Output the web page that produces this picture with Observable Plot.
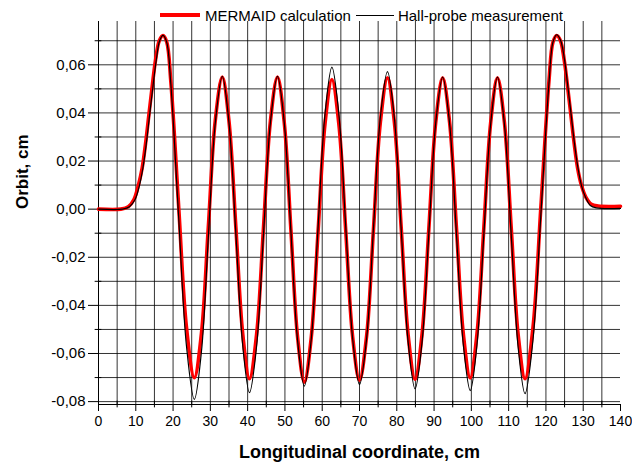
<!DOCTYPE html>
<html>
<head>
<meta charset="utf-8">
<script src="https://cdn.jsdelivr.net/npm/d3@7"></script>
<script src="https://cdn.jsdelivr.net/npm/@observablehq/plot@0.6"></script>
<style>
  body { margin: 0; background: #fff; }
  #wrap { position: relative; width: 632px; height: 464px; font-family: "Liberation Sans", Arial, sans-serif; }
  #legend { position: absolute; top: 6px; left: 160px; height: 18px; display: flex; align-items: center; font-size: 15px; color: #000; white-space: nowrap; }
  .sw { display: inline-block; }
</style>
</head>
<body>
<div id="wrap">
  <div id="legend">
    <span class="sw" style="width:40px;height:4px;background:#ff0000;"></span>
    <span style="margin-left:5px;">MERMAID calculation</span>
    <span class="sw" style="width:38px;height:1px;background:#000;margin-left:5px;"></span>
    <span style="margin-left:4px;">Hall-probe measurement</span>
  </div>
</div>
<script>
const xTicks = [0, 10, 20, 30, 40, 50, 60, 70, 80, 90, 100, 110, 120, 130, 140];
const xGrid = [5, 10, 15, 20, 25, 30, 35, 40, 45, 50, 55, 60, 65, 70, 75, 80, 85, 90, 95, 100, 105, 110, 115, 120, 125, 130, 135];
const xMinor = [5, 15, 25, 35, 45, 55, 65, 75, 85, 95, 105, 115, 125, 135];
const yTicks = [-0.08, -0.06, -0.04, -0.02, 0, 0.02, 0.04, 0.06];
const yGrid = [-0.08, -0.07, -0.06, -0.05, -0.04, -0.03, -0.02, -0.01, 0, 0.01, 0.02, 0.03, 0.04, 0.05, 0.06, 0.07];
const yMinor = [-0.07, -0.05, -0.03, -0.01, 0.01, 0.03, 0.05, 0.07];

const mermaidX = [0, 6, 8.0, 9.5, 10.7, 11.7, 12.6, 13.5, 14.4, 15.3, 16.3, 17.3, 18.3, 19.4, 21.5, 23.6, 25.7,
  27.6, 29.45, 31.3, 33.2, 35.0, 36.85, 38.7, 40.5, 42.4, 44.25, 46.1, 48.0, 49.8, 51.6, 53.4, 55.2,
  57.05, 58.9, 60.75, 62.6, 64.45, 66.3, 68.15, 70.0, 71.9, 73.75, 75.6, 77.5, 79.35, 81.2, 83.05, 84.9,
  86.75, 88.6, 90.45, 92.3, 94.15, 96.0, 97.85, 99.7, 101.5, 103.35, 105.2, 107.0, 108.85, 110.7, 112.55, 114.4,
  116.5, 118.65, 120.8, 121.9, 122.9, 123.9, 124.9, 125.8, 126.7, 127.6, 128.5, 129.5, 130.7, 132.2, 134, 140];
const mermaidY = [0, 0, 0.001, 0.004, 0.010, 0.017, 0.027, 0.039, 0.051, 0.062, 0.0700, 0.0722, 0.0695, 0.0530, 0.0011, -0.0492, -0.0701,
  -0.0518, -0.0076, 0.0366, 0.0549, 0.0365, -0.0078, -0.0521, -0.0705, -0.0521, -0.0078, 0.0365, 0.0549, 0.0363, -0.0085, -0.0533, -0.0719,
  -0.0535, -0.0090, 0.0355, 0.0539, 0.0356, -0.0087, -0.0529, -0.0712, -0.0528, -0.0083, 0.0362, 0.0546, 0.0362, -0.0081, -0.0524, -0.0708,
  -0.0524, -0.0081, 0.0362, 0.0546, 0.0363, -0.0078, -0.0519, -0.0702, -0.0519, -0.0078, 0.0363, 0.0546, 0.0363, -0.0080, -0.0522, -0.0705,
  -0.0496, 0.0009, 0.0530, 0.0695, 0.0722, 0.0700, 0.062, 0.051, 0.039, 0.027, 0.017, 0.010, 0.005, 0.002, 0.0013, 0.0012];

const hallX = [0, 6.5, 8.3, 9.8, 11.0, 11.9, 12.8, 13.7, 14.6, 15.5, 16.4, 17.3, 18.3, 19.4, 21.5, 23.6, 25.7,
  27.6, 29.45, 31.3, 33.2, 35.0, 36.85, 38.7, 40.5, 42.4, 44.25, 46.1, 48.0, 49.8, 51.6, 53.4, 55.2,
  57.05, 58.9, 60.75, 62.6, 64.45, 66.3, 68.15, 70.0, 71.9, 73.75, 75.6, 77.5, 79.35, 81.2, 83.05, 84.9,
  86.75, 88.6, 90.45, 92.3, 94.15, 96.0, 97.85, 99.7, 101.5, 103.35, 105.2, 107.0, 108.85, 110.7, 112.55, 114.4,
  116.5, 118.65, 120.8, 121.9, 122.9, 123.9, 124.9, 125.8, 126.7, 127.6, 128.5, 129.5, 130.6, 131.9, 133.5, 140];
const hallY = [0, 0, 0.001, 0.004, 0.010, 0.017, 0.027, 0.039, 0.051, 0.062, 0.0700, 0.0722, 0.0693, 0.0520, -0.0035, -0.0570, -0.0791,
  -0.0594, -0.0120, 0.0355, 0.0552, 0.0359, -0.0106, -0.0570, -0.0763, -0.0570, -0.0106, 0.0359, 0.0552, 0.0363, -0.0092, -0.0547, -0.0736,
  -0.0542, -0.0073, 0.0396, 0.0590, 0.0397, -0.0070, -0.0536, -0.0729, -0.0539, -0.0079, 0.0382, 0.0572, 0.0379, -0.0088, -0.0554, -0.0747,
  -0.0557, -0.0099, 0.0359, 0.0549, 0.0358, -0.0103, -0.0564, -0.0754, -0.0564, -0.0103, 0.0358, 0.0549, 0.0356, -0.0109, -0.0574, -0.0767,
  -0.0548, -0.0021, 0.0520, 0.0695, 0.0725, 0.0703, 0.063, 0.052, 0.040, 0.028, 0.018, 0.010, 0.005, 0.0015, 0.0005, 0.0003];

const mermaid = mermaidX.map((x, i) => ({x, y: mermaidY[i]}));
const hall = hallX.map((x, i) => ({x, y: hallY[i]}));

const yMin = -0.0812, yMax = 0.078;
const fmtY = d => d.toFixed(2).replace(".", ",");

const chart = Plot.plot({
  width: 632,
  height: 464,
  marginLeft: 98,
  marginRight: 12,
  marginTop: 21,
  marginBottom: 60,
  x: {domain: [0, 140]},
  y: {domain: [yMin, yMax]},
  style: {fontFamily: "'Liberation Sans', Arial, sans-serif", fontSize: "13px", color: "#000", background: "transparent"},
  marks: [
    Plot.ruleY(yGrid, {y: d => d, x1: 0, x2: 140, stroke: "#000", strokeOpacity: 0.8}),
    Plot.ruleX(xGrid, {x: d => d, y1: yMin, y2: yMax, stroke: "#000", strokeOpacity: 0.8}),
    Plot.ruleX([0], {x: d => d, y1: yMin, y2: yMax, stroke: "#000"}),
    Plot.ruleY([yMin], {y: d => d, x1: 0, x2: 140, stroke: "#000"}),
    Plot.ruleX(xMinor, {x: d => d, y1: yMin - 0.0014, y2: yMin + 0.0014, stroke: "#000"}),
    Plot.ruleY(yMinor, {y: d => d, x1: -0.9, x2: 0.9, stroke: "#000"}),
    Plot.axisX(xTicks, {tickSize: 7, tickPadding: 5, fontSize: 14, label: null, tickFormat: d => String(d)}),
    Plot.axisY(yTicks, {tickSize: 10, tickPadding: 3, fontSize: 15, label: null, tickFormat: fmtY}),
    Plot.line(mermaid, {x: "x", y: "y", stroke: "#ff0000", strokeWidth: 3.6, curve: "catmull-rom"}),
    Plot.line(hall, {x: "x", y: "y", stroke: "#000", strokeWidth: 1.2, curve: "catmull-rom"}),
    Plot.text(["Longitudinal coordinate, cm"], {frameAnchor: "bottom", dy: 48, lineAnchor: "middle", fontWeight: "bold", fontSize: 18}),
    Plot.text(["Orbit, cm"], {frameAnchor: "left", dx: -76, dy: -4, rotate: -90, lineAnchor: "middle", fontWeight: "bold", fontSize: 17})
  ]
});
document.getElementById("wrap").prepend(chart);
chart.style.position = "absolute";
chart.style.left = "0";
chart.style.top = "0";
</script>
</body>
</html>
